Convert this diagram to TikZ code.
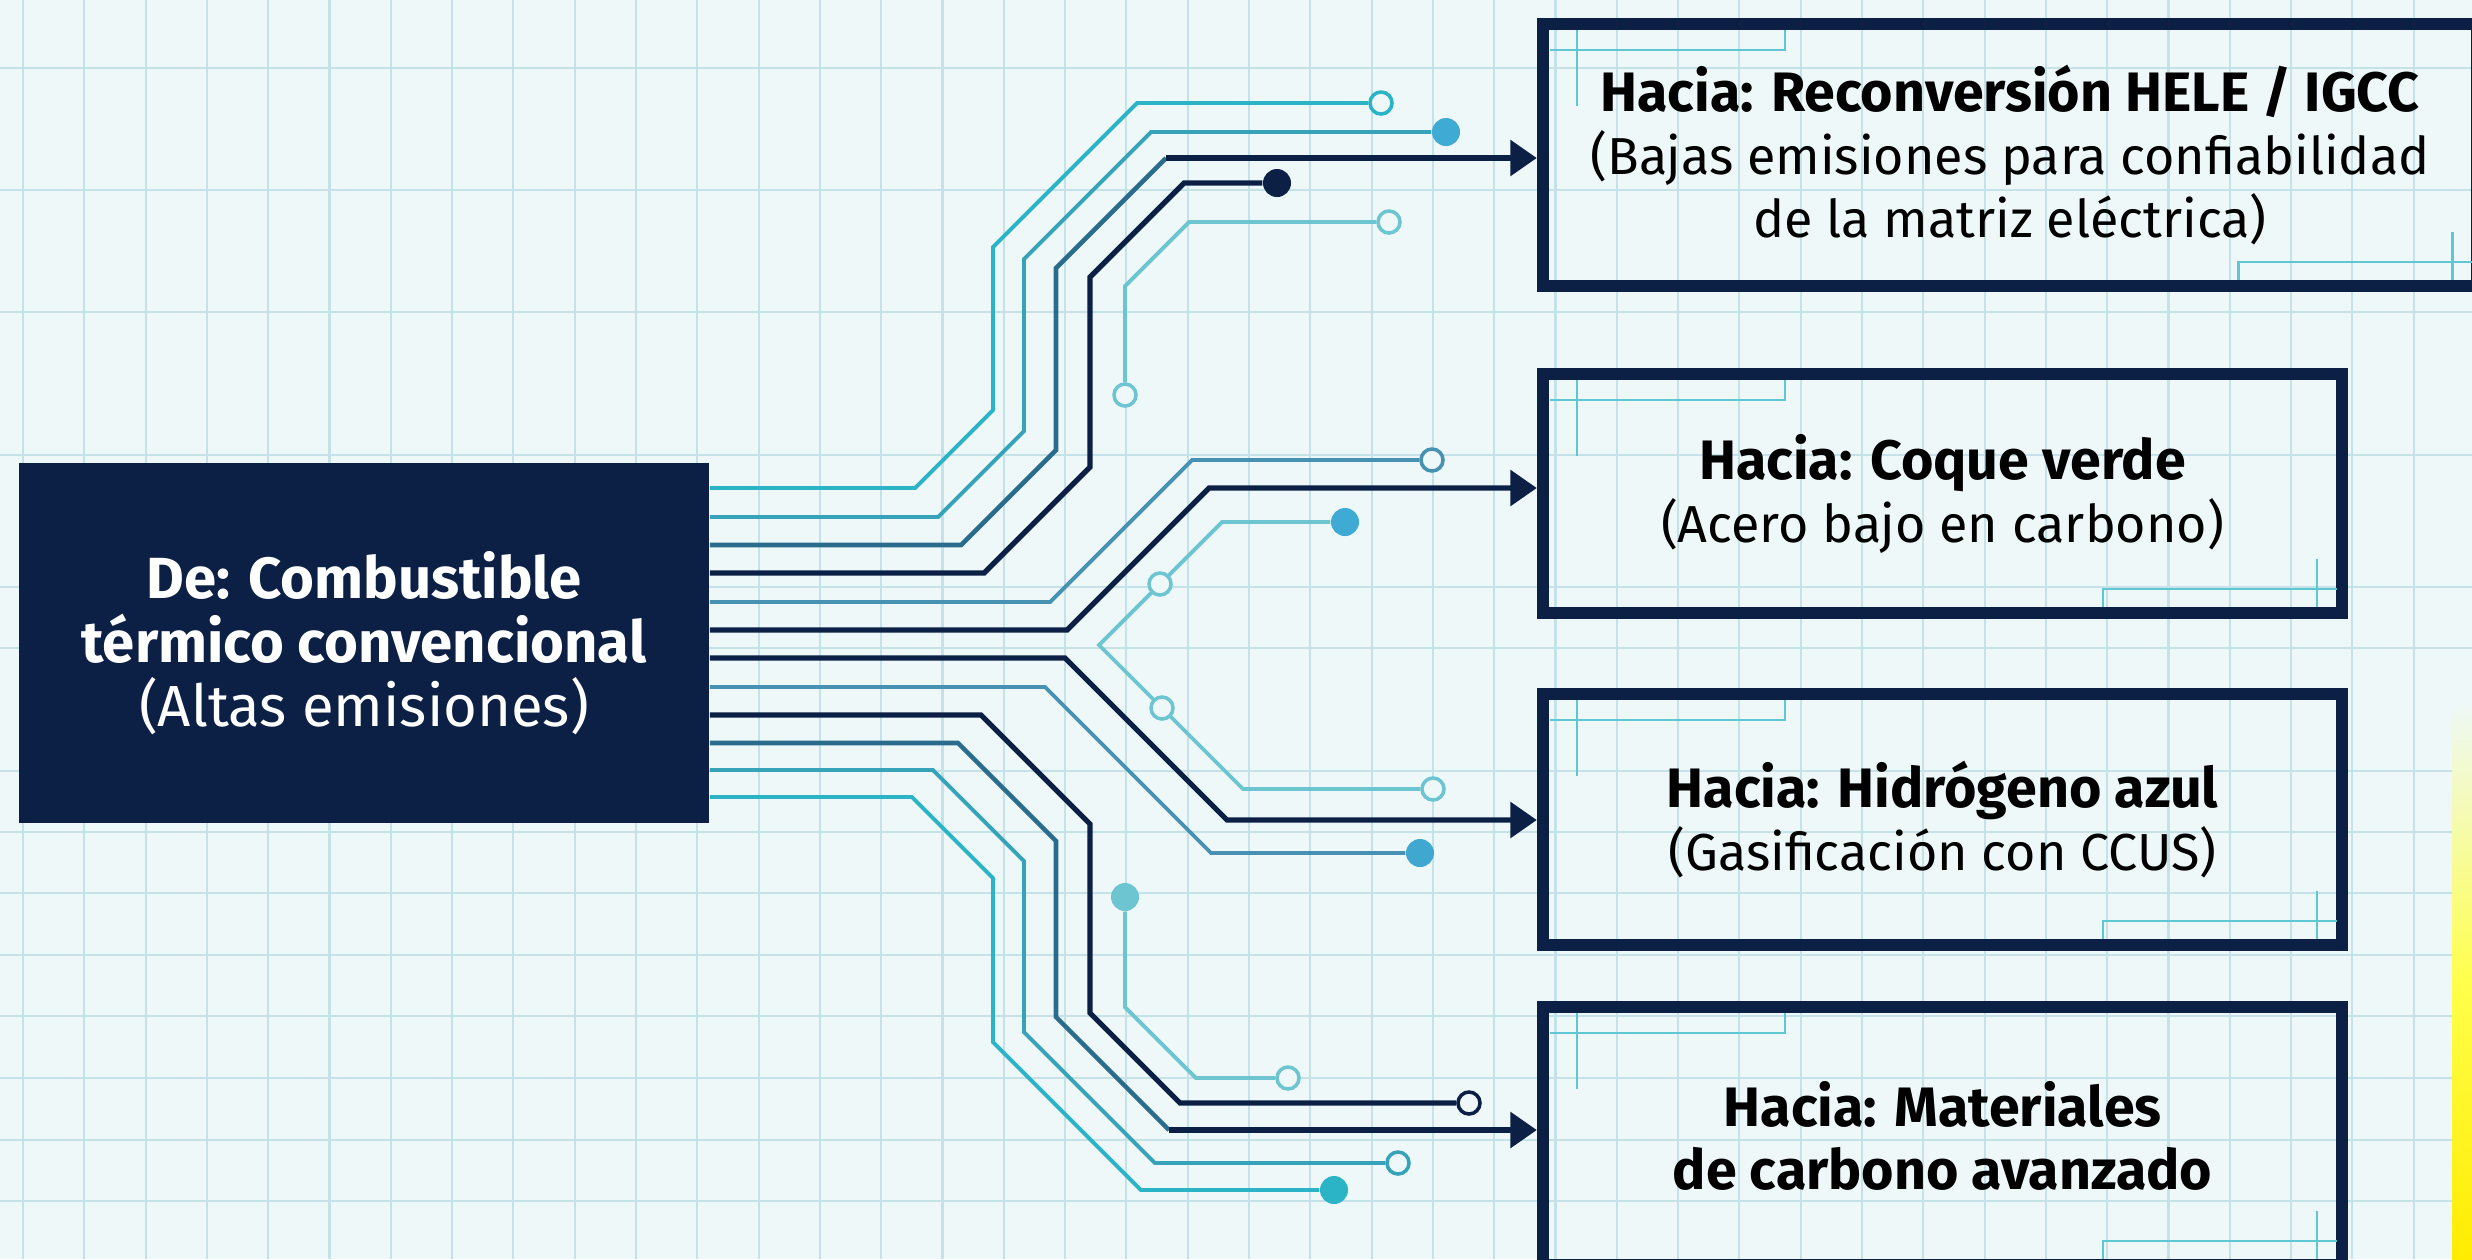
\documentclass[tikz,border=0pt]{standalone}
\usepackage{fontspec}
\setmainfont{Fira Sans}
\usetikzlibrary{arrows.meta}

\definecolor{paper}{HTML}{EEF8F9}
\definecolor{gridline}{HTML}{C4E2E7}
\definecolor{navy}{HTML}{0C2046}
\definecolor{cyantrace}{HTML}{2AB4C5}
\definecolor{tealtrace}{HTML}{36A3B9}
\definecolor{steeltrace}{HTML}{4791B2}
\definecolor{deepteal}{HTML}{2A6C8C}
\definecolor{lighttrace}{HTML}{6CC5D1}
\definecolor{padblue}{HTML}{3FAAD3}
\definecolor{trimcol}{HTML}{5FC6D3}

\tikzset{
    trace/.style={line width=1.1pt, line join=miter},
    bus/.style={line width=1.5pt, draw=navy, line join=miter},
    feed/.style={bus, -{Triangle[length=7.5pt, width=10pt]}},
    openpad/.style={circle, draw=#1, fill=paper, line width=1pt, inner sep=0pt, minimum size=0.22cm},
    solidpad/.style={circle, fill=#1, inner sep=0pt, minimum size=0.28cm},
    targetbox/.style={draw=navy, line width=3.4pt, align=center, font=\fontsize{14.8}{17.9}\selectfont},
    trimline/.style={draw=trimcol, line width=0.7pt},
}

% bold first line of a target box
\newcommand\headline[1]{{\fontsize{15.8}{17.9}\selectfont\bfseries #1}}

% corner trims inside a target box
\newcommand\boxtrim[1]{%
    \draw[trimline] ([shift={(13,32)}]#1.north west) -- ([shift={(248,32)}]#1.north west)
        -- ([shift={(248,12)}]#1.north west);
    \draw[trimline] ([shift={(40,12)}]#1.north west) -- ([shift={(40,88)}]#1.north west);
    \draw[trimline] ([shift={(-245,-12)}]#1.south east) -- ([shift={(-245,-30)}]#1.south east)
        -- ([shift={(-11,-30)}]#1.south east);
    \draw[trimline] ([shift={(-31,-60)}]#1.south east) -- ([shift={(-31,-12)}]#1.south east);
}

\begin{document}
\begin{tikzpicture}[x=0.01cm, y=-0.01cm]
    \clip (0,0) rectangle (2472,1259);
    \fill[paper] (0,0) rectangle (2472,1259);
    \foreach \gx in {0,...,40}
        \draw[gridline, line width=0.6pt] (23+61.3*\gx,0) -- (23+61.3*\gx,1259);
    \foreach \gy in {68,190,312,455,587,648,771,832,893,955,1016,1078,1140,1201}
        \draw[gridline, line width=0.6pt] (0,\gy) -- (2472,\gy);
    \shade[top color=paper, bottom color=yellow!85!orange, middle color=yellow!70] (2452,700) rectangle (2472,1259);

    % source and target boxes
    \node[fill=navy, text=white, minimum width=6.9cm, minimum height=3.6cm, align=center,
        font=\fontsize{16.5}{18.2}\selectfont] (src) at (364,643)
        {\textbf{De: Combustible}\\ \textbf{térmico convencional}\\ (Altas emisiones)};
    \node[targetbox, minimum width=9.34cm, minimum height=2.62cm] (hele) at (2010,155)
        {\headline{Hacia: Reconversión HELE / IGCC}\\ (Bajas emisiones para confiabilidad\\ de la matriz eléctrica)};
    \node[targetbox, minimum width=7.99cm, minimum height=2.39cm] (coque) at (1942.5,493.5)
        {\headline{Hacia: Coque verde}\\ (Acero bajo en carbono)};
    \node[targetbox, minimum width=7.99cm, minimum height=2.51cm] (hidro) at (1942.5,819.5)
        {\headline{Hacia: Hidrógeno azul}\\ (Gasificación con CCUS)};
    \node[targetbox, minimum width=7.99cm, minimum height=2.58cm] (mater) at (1942.5,1136)
        {\headline{Hacia: Materiales}\\ \headline{de carbono avanzado}};
    \boxtrim{hele}
    \boxtrim{coque}
    \boxtrim{hidro}
    \boxtrim{mater}

    % pads
    \node[openpad=cyantrace] (pa) at (1381,103) {};
    \node[solidpad=padblue] (pb) at (1446,132) {};
    \node[solidpad=navy] (pc) at (1277,183) {};
    \node[openpad=lighttrace] (pd) at (1125,395) {};
    \node[openpad=lighttrace] (pe) at (1389,222) {};
    \node[openpad=steeltrace] (pf) at (1432,460) {};
    \node[solidpad=padblue] (pg) at (1345,522) {};
    \node[openpad=lighttrace] (ph) at (1433,789) {};
    \node[solidpad=padblue!90!steeltrace] (pj) at (1420,853) {};
    \node[openpad=navy] (pk) at (1469,1103) {};
    \node[openpad=tealtrace] (pl) at (1398,1163) {};
    \node[solidpad=cyantrace] (pm) at (1334,1190) {};
    \node[solidpad=lighttrace] (pn) at (1125,897) {};
    \node[openpad=lighttrace] (po) at (1288,1078) {};
    \coordinate (fork) at (1099,645);
    \coordinate (k3) at (1166,158);
    \coordinate (k11) at (1169,1130);

    % upper bundle
    \draw[trace, cyantrace] (src.east |- 0,488) -- (915,488) -- (993,410) -- (993,247) -- (1137,103) -- (pa);
    \draw[trace, tealtrace] (src.east |- 0,517) -- (938,517) -- (1024,431) -- (1024,259) -- (1151,132) -- (pb);
    \draw[trace, deepteal, line width=1.3pt] (src.east |- 0,545) -- (961,545) -- (1056,450) -- (1056,268) -- (k3);
    \draw[feed] (k3) -- (hele.west |- k3);
    \draw[bus] (src.east |- 0,573) -- (984,573) -- (1090,467) -- (1090,277) -- (1184,183) -- (pc);
    \draw[trace, lighttrace] (pd) -- (1125,286) -- (1189,222) -- (pe);

    % middle bundle
    \draw[trace, steeltrace] (src.east |- 0,602) -- (1050,602) -- (1192,460) -- (pf);
    \draw[feed] (src.east |- 0,630) -- (1067,630) -- (1209,488) -- (coque.west |- 0,488);
    \draw[trace, lighttrace] (pg) -- (1222,522) -- (fork) -- (1243,789) -- (ph);
    \draw[feed] (src.east |- 0,658) -- (1065,658) -- (1227,820) -- (hidro.west |- 0,820);
    \draw[trace, steeltrace] (src.east |- 0,687) -- (1045,687) -- (1211,853) -- (pj);

    % lower bundle
    \draw[bus] (src.east |- 0,715) -- (981,715) -- (1090,824) -- (1090,1013) -- (1180,1103) -- (pk);
    \draw[trace, deepteal, line width=1.3pt] (src.east |- 0,743) -- (958,743) -- (1056,841) -- (1056,1017) -- (k11);
    \draw[feed] (k11) -- (mater.west |- k11);
    \draw[trace, tealtrace] (src.east |- 0,770) -- (933,770) -- (1024,861) -- (1024,1032) -- (1155,1163) -- (pl);
    \draw[trace, cyantrace] (src.east |- 0,797) -- (912,797) -- (993,878) -- (993,1042) -- (1141,1190) -- (pm);
    \draw[trace, lighttrace] (pn) -- (1125,1007) -- (1196,1078) -- (po);

    % pads on the fork
    \node[openpad=lighttrace] (pq) at (1160,584) {};
    \node[openpad=lighttrace] (pr) at (1162,708) {};
\end{tikzpicture}
\end{document}
